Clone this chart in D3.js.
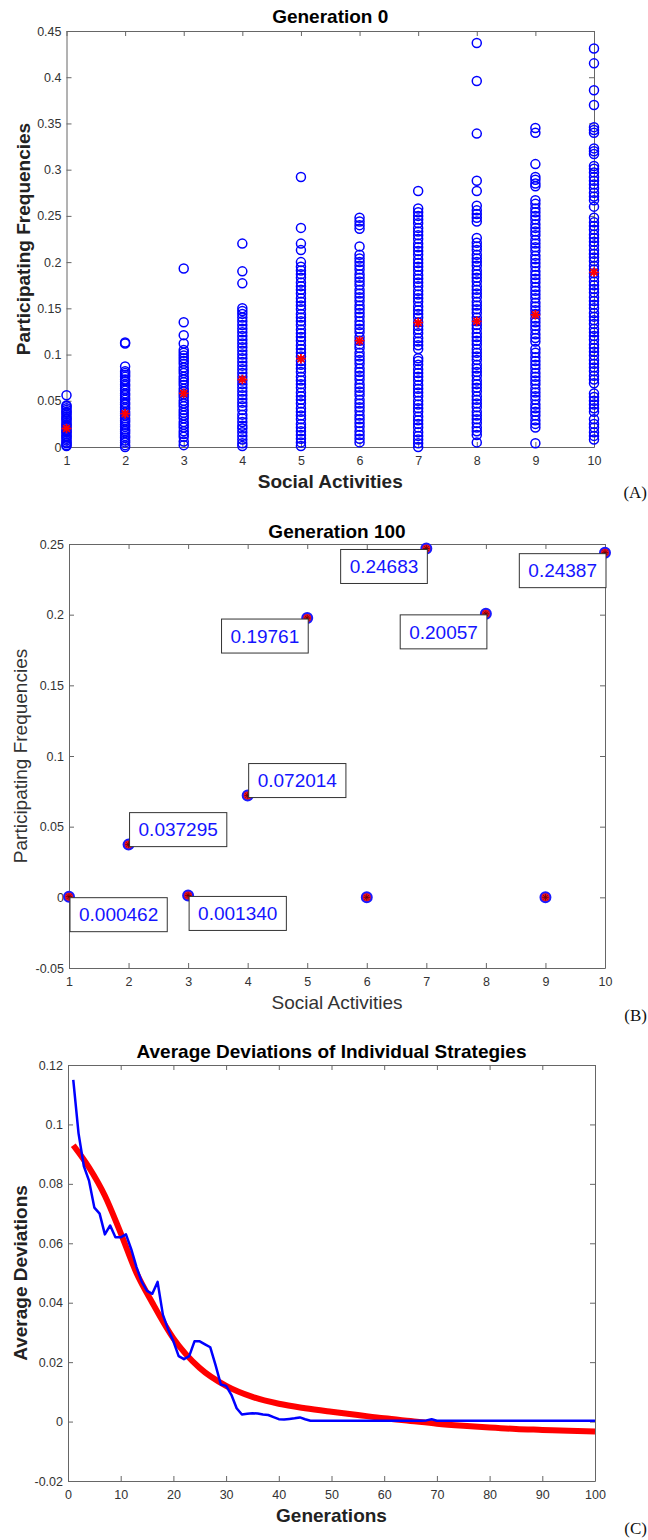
<!DOCTYPE html>
<html><head><meta charset="utf-8">
<script src="https://cdn.jsdelivr.net/npm/d3@7"></script>
<style>
body{margin:0;background:#fff;}
svg{display:block;font-family:"Liberation Sans",Arial,Helvetica,sans-serif;}
</style></head><body>
<svg id="chart" width="648" height="1540"></svg>
<script>
// ---------- DATA ----------
const activities = [1,2,3,4,5,6,7,8,9,10];
const activityTickLabels = ["1","2","3","4","5","6","7","8","9","10"];

// Generation 0: participating frequencies of individuals per activity
const gen0Act1 = [0.001,0.002,0.004,0.005,0.007,0.009,0.011,0.012,0.014,0.016,0.017,0.019,0.021,0.023,0.024,0.026,0.028,0.030,0.031,0.033,0.035,0.037,0.038,0.040,0.042,0.044,0.045,0.056];
const gen0Act2 = [0.000,0.002,0.005,0.007,0.010,0.012,0.015,0.017,0.019,0.022,0.024,0.027,0.029,0.031,0.034,0.036,0.038,0.041,0.043,0.046,0.048,0.051,0.053,0.056,0.058,0.061,0.063,0.066,0.068,0.071,0.073,0.076,0.078,0.080,0.082,0.087,0.112,0.113];
const gen0Act3 = [0.002,0.006,0.011,0.014,0.017,0.021,0.024,0.027,0.031,0.034,0.037,0.040,0.044,0.047,0.050,0.054,0.057,0.060,0.063,0.067,0.070,0.073,0.076,0.080,0.083,0.086,0.090,0.093,0.096,0.099,0.102,0.105,0.112,0.121,0.135,0.193];
const gen0Act4 = [0.001,0.004,0.008,0.012,0.016,0.020,0.023,0.027,0.031,0.035,0.040,0.044,0.048,0.052,0.056,0.060,0.064,0.068,0.072,0.076,0.080,0.084,0.088,0.092,0.096,0.100,0.104,0.108,0.112,0.116,0.120,0.124,0.128,0.132,0.136,0.140,0.144,0.147,0.150,0.177,0.190,0.220];
const gen0Act5 = [0.001,0.005,0.009,0.013,0.017,0.021,0.025,0.030,0.034,0.038,0.042,0.047,0.051,0.055,0.059,0.064,0.068,0.072,0.076,0.081,0.085,0.089,0.093,0.098,0.102,0.106,0.110,0.115,0.119,0.123,0.127,0.132,0.136,0.140,0.144,0.149,0.153,0.157,0.161,0.166,0.170,0.174,0.178,0.183,0.187,0.191,0.195,0.200,0.213,0.220,0.237,0.292];
const gen0Act6 = [0.005,0.009,0.013,0.017,0.022,0.026,0.030,0.034,0.039,0.043,0.047,0.051,0.056,0.060,0.064,0.068,0.073,0.077,0.081,0.085,0.090,0.094,0.098,0.102,0.107,0.111,0.115,0.119,0.124,0.128,0.132,0.136,0.141,0.145,0.149,0.153,0.158,0.162,0.166,0.170,0.175,0.179,0.183,0.187,0.192,0.196,0.200,0.204,0.208,0.217,0.236,0.240,0.244,0.248];
const gen0Act7 = [0.000,0.004,0.008,0.012,0.016,0.021,0.025,0.029,0.033,0.038,0.042,0.046,0.050,0.055,0.059,0.063,0.067,0.072,0.076,0.080,0.084,0.089,0.093,0.096,0.106,0.110,0.114,0.118,0.123,0.127,0.131,0.135,0.140,0.144,0.148,0.152,0.157,0.161,0.165,0.169,0.174,0.178,0.182,0.186,0.191,0.195,0.199,0.203,0.208,0.212,0.216,0.220,0.225,0.229,0.233,0.237,0.242,0.246,0.250,0.254,0.258,0.277];
const gen0Act8 = [0.005,0.013,0.017,0.021,0.026,0.030,0.034,0.038,0.043,0.047,0.051,0.055,0.060,0.064,0.068,0.072,0.077,0.081,0.085,0.089,0.094,0.098,0.102,0.106,0.111,0.115,0.119,0.123,0.128,0.132,0.136,0.140,0.145,0.149,0.153,0.157,0.162,0.166,0.170,0.174,0.179,0.183,0.187,0.191,0.196,0.200,0.204,0.208,0.213,0.217,0.221,0.226,0.244,0.248,0.252,0.256,0.261,0.277,0.288,0.339,0.396,0.437];
const gen0Act9 = [0.004,0.021,0.025,0.029,0.034,0.038,0.042,0.046,0.051,0.055,0.059,0.063,0.068,0.072,0.076,0.080,0.085,0.089,0.093,0.097,0.102,0.106,0.114,0.118,0.122,0.127,0.131,0.135,0.139,0.144,0.148,0.152,0.156,0.161,0.165,0.169,0.173,0.178,0.182,0.186,0.190,0.195,0.199,0.203,0.207,0.212,0.216,0.220,0.224,0.229,0.233,0.237,0.241,0.246,0.250,0.254,0.258,0.263,0.267,0.282,0.285,0.289,0.292,0.306,0.340,0.345];
const gen0Act10 = [0.008,0.012,0.016,0.021,0.025,0.030,0.038,0.042,0.046,0.050,0.054,0.058,0.069,0.073,0.077,0.082,0.086,0.090,0.094,0.099,0.103,0.107,0.111,0.116,0.120,0.124,0.128,0.133,0.137,0.141,0.145,0.150,0.154,0.158,0.162,0.167,0.171,0.175,0.179,0.184,0.188,0.192,0.196,0.201,0.205,0.209,0.213,0.218,0.222,0.226,0.230,0.235,0.239,0.243,0.248,0.260,0.267,0.271,0.275,0.280,0.284,0.288,0.292,0.297,0.301,0.304,0.317,0.320,0.323,0.340,0.343,0.346,0.370,0.386,0.415,0.431];
const gen0Means = [0.020,0.036,0.058,0.073,0.0955,0.115,0.1345,0.136,0.143,0.189];
const gen0YTicks = [0,0.05,0.1,0.15,0.2,0.25,0.3,0.35,0.4,0.45];
const gen0YTickLabels = ["0","0.05","0.1","0.15","0.2","0.25","0.3","0.35","0.4","0.45"];

// Generation 100
const gen100Values = [0.000462,0.037295,0.001340,0.072014,0.19761,0,0.24683,0.20057,0,0.24387];
const gen100Labels = ["0.000462","0.037295","0.001340","0.072014","0.19761",null,"0.24683","0.20057",null,"0.24387"];
const gen100LabelSide = ["br","tr","br","tr","bl",null,"bl","bl",null,"bl"];
const gen100YTicks = [-0.05,0,0.05,0.1,0.15,0.2,0.25];
const gen100YTickLabels = ["-0.05","0","0.05","0.1","0.15","0.2","0.25"];

// Average deviations over generations
const generations = d3.range(1,101);
const avgDeviation = [0.115,0.097,0.086,0.081,0.072,0.070,0.063,0.066,0.062,0.062,
 0.063,0.058,0.052,0.047,0.044,0.043,0.047,0.036,0.031,0.027,
 0.022,0.021,0.022,0.027,0.027,0.026,0.025,0.019,0.0125,0.012,
 0.009,0.0045,0.0024,0.0026,0.0028,0.0027,0.0024,0.0022,0.0015,0.0008,
 0.0007,0.0009,0.0011,0.0014,0.0008,0.0003,0.0003,0.0003,0.0003,0.0003,
 0.0003,0.0003,0.0003,0.0003,0.0003,0.0003,0.0003,0.0003,0.0003,0.0003,
 0.0003,0.0003,0.0003,0.0003,0.0003,0.0003,0.0003,0.0004,0.0008,0.0003,
 0.0003,0.0003,0.0003,0.0003,0.0003,0.0003,0.0003,0.0003,0.0003,0.0003,
 0.0003,0.0003,0.0003,0.0003,0.0003,0.0003,0.0003,0.0003,0.0003,0.0003,
 0.0003,0.0003,0.0003,0.0003,0.0003,0.0003,0.0003,0.0003,0.0003,0.0003];
const fitGenerations = [1,4,7,10,13,16,20,25,30,35,40,45,50,55,60,65,70,75,80,85,90,95,100];
const fitDeviation = [0.093,0.0855,0.076,0.0634,0.050,0.040,0.028,0.018,0.012,0.0083,0.006,0.0045,0.0033,0.0022,0.0011,0.0002,-0.0007,-0.0014,-0.002,-0.0025,-0.0028,-0.0031,-0.0033];
const genXTicks = [0,10,20,30,40,50,60,70,80,90,100];
const genXTickLabels = ["0","10","20","30","40","50","60","70","80","90","100"];
const devYTicks = [-0.02,0,0.02,0.04,0.06,0.08,0.1,0.12];
const devYTickLabels = ["-0.02","0","0.02","0.04","0.06","0.08","0.1","0.12"];

// ---------- DRAW ----------
const svg = d3.select("#chart");
const AX = "#666", TXT = "#333";

function frame(x, y, xt, xl, yt, yl) {
  const [x0,x1] = x.range(); const [yb,yt0] = y.range();
  const g = svg.append("g");
  const sty = s => { s.selectAll(".domain").attr("stroke",AX).attr("stroke-width",1);
    s.selectAll(".tick line").attr("stroke",AX).attr("stroke-width",1);
    s.selectAll(".tick text").attr("fill",TXT).style("font-size","12.5px").style("font-family","'Liberation Sans',Arial,sans-serif"); };
  g.append("g").attr("transform",`translate(0,${yb})`).call(d3.axisBottom(x).tickValues(xt).tickFormat((d,i)=>xl[i]).tickSizeInner(-5).tickSizeOuter(0).tickPadding(9.5)).call(sty);
  g.append("g").attr("transform",`translate(0,${yt0})`).call(d3.axisTop(x).tickValues(xt).tickFormat("").tickSizeInner(-5).tickSizeOuter(0)).call(sty);
  g.append("g").attr("transform",`translate(${x0},0)`).call(d3.axisLeft(y).tickValues(yt).tickFormat((d,i)=>yl[i]).tickSizeInner(-5).tickSizeOuter(0).tickPadding(5)).call(sty);
  g.append("g").attr("transform",`translate(${x1},0)`).call(d3.axisRight(y).tickValues(yt).tickFormat("").tickSizeInner(-5).tickSizeOuter(0)).call(sty);
}
function texts(x, y, title, titleY, xlab, xlabY, ylab, ylabX, bold, tag, tagY) {
  const cx = (x.range()[0]+x.range()[1])/2, cy = (y.range()[0]+y.range()[1])/2;
  svg.append("text").attr("x",cx).attr("y",titleY).attr("dy","0.35em").attr("text-anchor","middle")
    .style("font-size","19px").style("font-weight","bold").attr("fill","#000").text(title);
  svg.append("text").attr("x",cx).attr("y",xlabY).attr("dy","0.35em").attr("text-anchor","middle")
    .style("font-size","19px").style("font-weight",bold?"bold":"normal").attr("fill",bold?"#222":"#333").text(xlab);
  svg.append("text").attr("transform",`translate(${ylabX},${cy}) rotate(-90)`).attr("dy","0.35em").attr("text-anchor","middle")
    .style("font-size","19px").style("font-weight",bold?"bold":"normal").attr("fill",bold?"#222":"#333").text(ylab);
  svg.append("text").attr("x",647).attr("y",tagY).attr("dy","0.35em").attr("text-anchor","end")
    .style("font-family","'Liberation Serif','DejaVu Serif',serif").style("font-size","17px").attr("fill","#111").text(tag);
}
function starPath(s){ const a=s*0.7071; return `M${-s},0L${s},0M0,${-s}L0,${s}M${-a},${-a}L${a},${a}M${-a},${a}L${a},${-a}`; }

// Panel A
{
  const x = d3.scaleLinear().domain([1,10]).range([66.5,594]);
  const y = d3.scaleLinear().domain([0,0.45]).range([447,31]);
  frame(x,y,activities,activityTickLabels,gen0YTicks,gen0YTickLabels);
  const cols = [gen0Act1,gen0Act2,gen0Act3,gen0Act4,gen0Act5,gen0Act6,gen0Act7,gen0Act8,gen0Act9,gen0Act10];
  const pts = [];
  cols.forEach((c,i)=>c.forEach(v=>pts.push({a:activities[i],v})));
  svg.append("g").selectAll("circle").data(pts).join("circle")
    .attr("cx",d=>x(d.a)).attr("cy",d=>y(d.v)).attr("r",4.5)
    .attr("fill","none").attr("stroke","#0000ff").attr("stroke-width",1.5);
  svg.append("g").selectAll("path").data(gen0Means).join("path")
    .attr("transform",(d,i)=>`translate(${x(activities[i])},${y(d)})`).attr("d",starPath(4.8))
    .attr("stroke","#ff0000").attr("stroke-width",1.8).attr("fill","none");
  texts(x,y,"Generation 0",16.7,"Social Activities",481.5,"Participating Frequencies",23.5,true,"(A)",492);
}

// Panel B
{
  const x = d3.scaleLinear().domain([1,10]).range([69,605]);
  const y = d3.scaleLinear().domain([-0.05,0.25]).range([968,544]);
  frame(x,y,activities,activityTickLabels,gen100YTicks,gen100YTickLabels);
  const g = svg.append("g");
  g.selectAll("circle").data(gen100Values).join("circle")
    .attr("cx",(d,i)=>x(activities[i])).attr("cy",d=>y(d)).attr("r",5)
    .attr("fill","#ee1122").attr("stroke","#1a1aff").attr("stroke-width",2);
  g.selectAll("path").data(gen100Values).join("path")
    .attr("transform",(d,i)=>`translate(${x(activities[i])},${y(d)})`).attr("d",starPath(3.2))
    .attr("stroke","#660000").attr("stroke-width",0.8).attr("fill","none");
  const lg = svg.append("g");
  gen100Values.forEach((v,i)=>{
    if(!gen100Labels[i]) return;
    const px = x(activities[i]), py = y(v);
    const bg = lg.append("g");
    const rect = bg.append("rect").attr("fill","#fff").attr("stroke","#333").attr("stroke-width",1);
    const t = bg.append("text").text(gen100Labels[i]).style("font-size","19px").attr("fill","#1414ff");
    const tw = t.node().getComputedTextLength();
    const w = tw + 18, h = 34;
    const side = gen100LabelSide[i];
    const bx = side[1]==="r" ? px+1 : px+1-w;
    const by = side[0]==="b" ? py+1 : py+2-h;
    rect.attr("x",bx).attr("y",by).attr("width",w).attr("height",h);
    t.attr("x",bx+9).attr("y",by+h/2).attr("dy","0.35em");
  });
  texts(x,y,"Generation 100",531.7,"Social Activities",1002.5,"Participating Frequencies",20,false,"(B)",1015);
}

// Panel C
{
  const x = d3.scaleLinear().domain([0,100]).range([68,595]);
  const y = d3.scaleLinear().domain([-0.02,0.12]).range([1481,1065]);
  frame(x,y,genXTicks,genXTickLabels,devYTicks,devYTickLabels);
  svg.append("path").datum(fitGenerations.map((g,i)=>[g,fitDeviation[i]]))
    .attr("d",d3.line().x(d=>x(d[0])).y(d=>y(d[1])).curve(d3.curveMonotoneX))
    .attr("fill","none").attr("stroke","#ff0000").attr("stroke-width",6);
  svg.append("path").datum(generations.map((g,i)=>[g,avgDeviation[i]]))
    .attr("d",d3.line().x(d=>x(d[0])).y(d=>y(d[1])))
    .attr("fill","none").attr("stroke","#0000ff").attr("stroke-width",2.5).attr("stroke-linejoin","round");
  texts(x,y,"Average Deviations of Individual Strategies",1051.7,"Generations",1515,"Average Deviations",20,true,"(C)",1528);
}
</script>
</body></html>
